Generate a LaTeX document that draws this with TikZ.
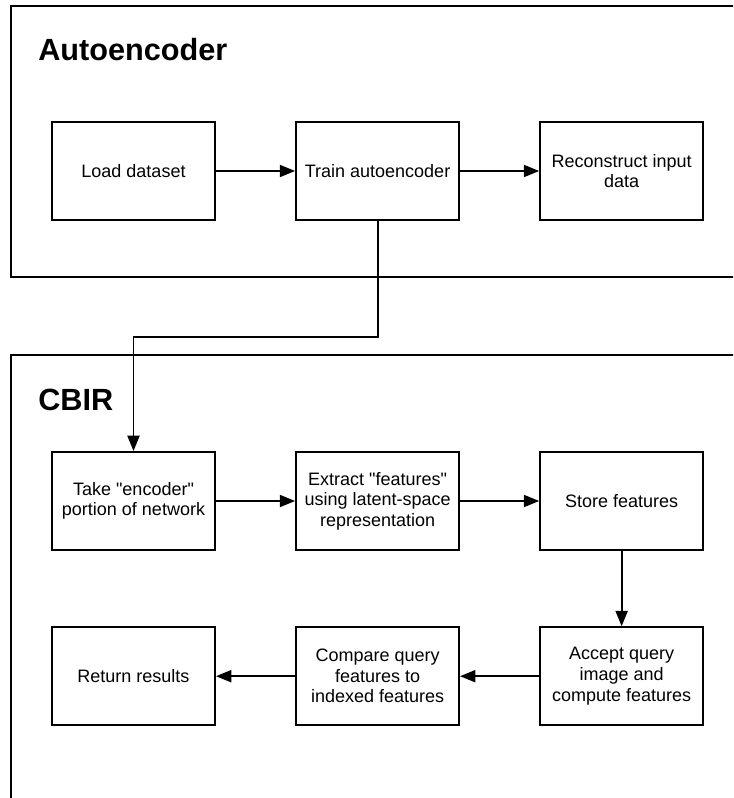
\documentclass[tikz,border=0pt]{standalone}
\usepackage{fontspec}
\setmainfont{Liberation Sans}[Ligatures=TeXOff]
\usetikzlibrary{positioning,arrows.meta}

\tikzset{
  stepbox/.style={draw, line width=1.4pt, minimum width=122.25pt, minimum height=73.5pt,
    align=center, inner sep=2pt, font=\fontsize{13.5}{15.4}\selectfont},
  grouptitle/.style={anchor=base west, inner sep=0pt, font=\bfseries\fontsize{23}{27}\selectfont},
  flow/.style={line width=1.4pt, -{Triangle[length=11.5pt,width=9pt]}},
  frame/.style={line width=1.4pt}
}

\begin{document}
\begin{tikzpicture}[x=0.75pt, y=-0.75pt]
\path[use as bounding box, clip] (0,0) rectangle (733,798);

% group frames (open on the right)
\draw[frame] (745,6) -- (11,6) -- (11,277) -- (745,277);
\draw[frame] (745,355) -- (11,355) -- (11,810);
\node[grouptitle] (aetitle) at (38,61) {Autoencoder};
\node[grouptitle] (cbirtitle) at (38,410) {CBIR};

% autoencoder row
\node[stepbox] (load) at (133.5,171) {Load dataset};
\node[stepbox, right=59.4pt of load] (train) {Train autoencoder};
\node[stepbox, right=59.4pt of train] (recon) {Reconstruct input\\data};

% cbir rows
\node[stepbox] (take) at (133.5,501) {Take "encoder"\\portion of network};
\node[stepbox, right=59.4pt of take] (extract) {Extract "features"\\using latent-space\\representation};
\node[stepbox, right=59.4pt of extract] (store) {Store features};
\node[stepbox, below=56.5pt of store] (accept) {Accept query\\image and\\compute features};
\node[stepbox, left=59.4pt of accept] (compare) {Compare query\\features to\\indexed features};
\node[stepbox, left=59.4pt of compare] (results) {Return results};

\draw[flow] (load) -- (train);
\draw[flow] (train) -- (recon);
\draw[flow] (train.south) -- ++(0,116) -| (take.north);
\draw[flow] (take) -- (extract);
\draw[flow] (extract) -- (store);
\draw[flow] (store) -- (accept);
\draw[flow] (accept) -- (compare);
\draw[flow] (compare) -- (results);
\end{tikzpicture}
\end{document}
